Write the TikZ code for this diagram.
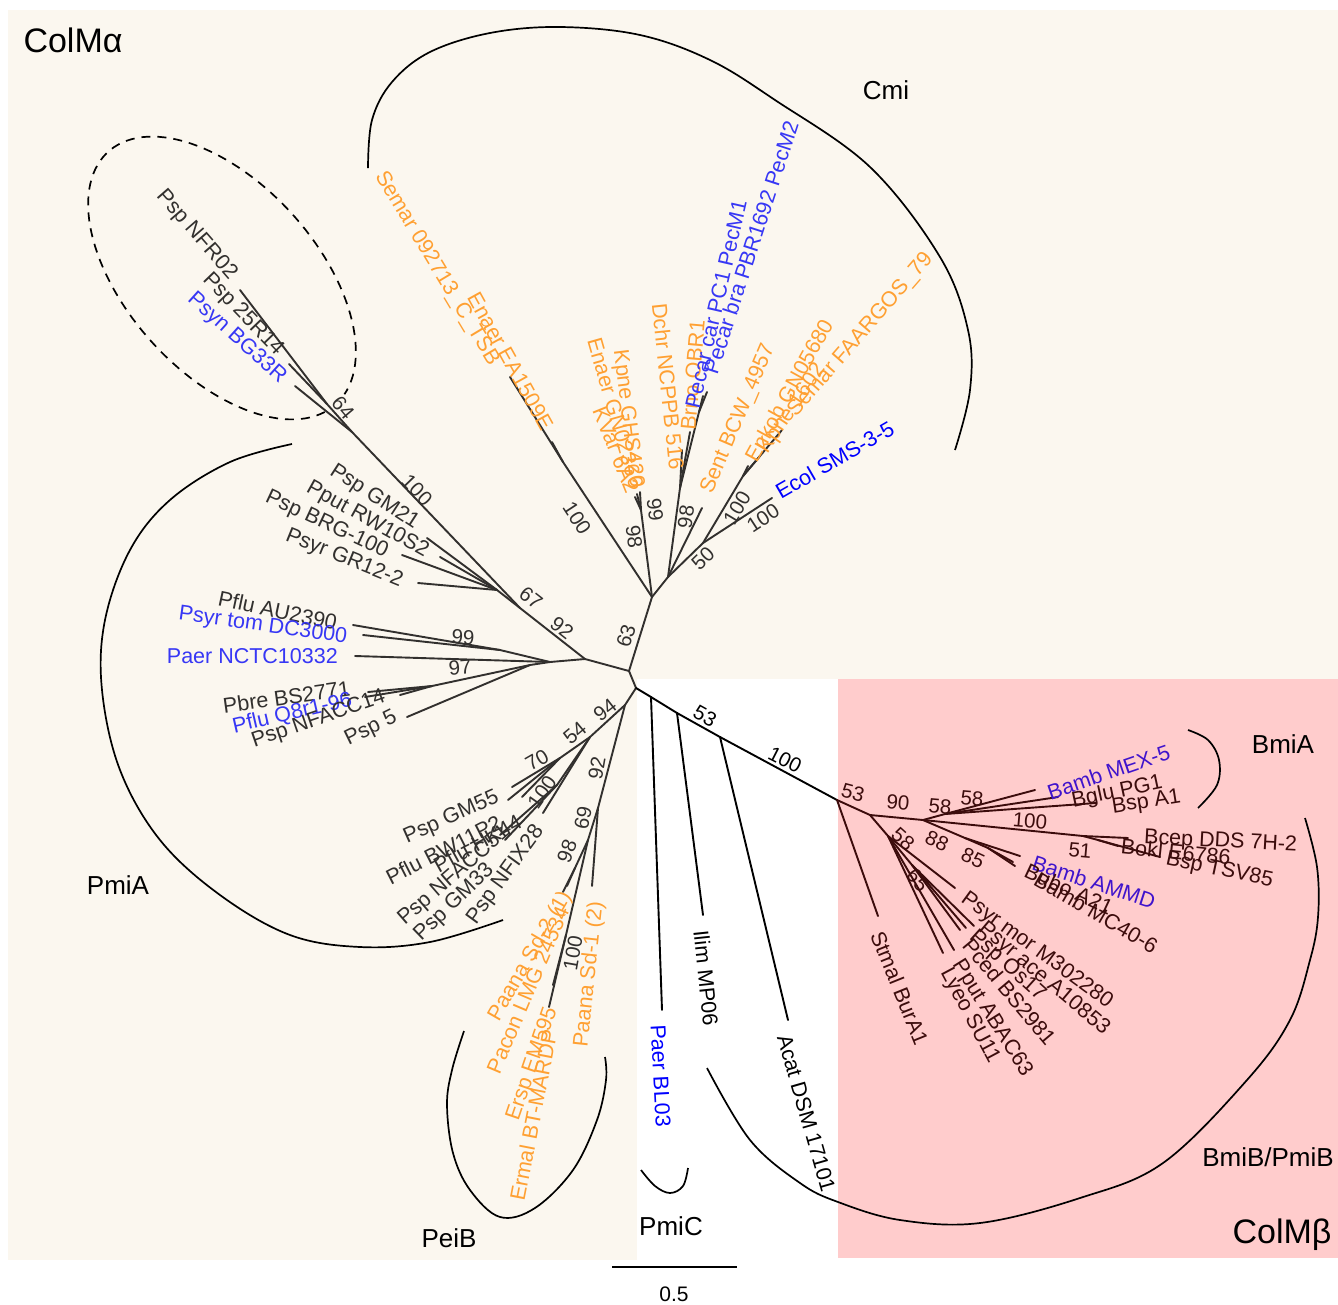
\documentclass[tikz,border=0pt]{standalone}
\usepackage{fontspec}
\setmainfont{Liberation Sans}
\definecolor{cream}{RGB}{251,247,239}
\definecolor{pinkbg}{RGB}{255,204,204}
\definecolor{txtA}{RGB}{50,48,46}
\definecolor{blueA}{RGB}{55,55,245}
\definecolor{blueW}{RGB}{0,0,255}
\definecolor{orangeA}{RGB}{255,160,50}
\definecolor{txtB}{RGB}{60,12,12}
\definecolor{blueB}{RGB}{64,20,204}
\begin{document}
\begin{tikzpicture}[x=1pt,y=-1pt,
  eA/.style={draw=txtA, line width=1.9pt, line cap=round},
  eW/.style={draw=black, line width=1.9pt, line cap=round},
  eB/.style={draw=txtB, line width=1.9pt, line cap=round},
  arcline/.style={draw=black, line width=1.7pt},
  leaf/.style={font=\fontsize{21.5}{21.5}\selectfont, inner sep=0pt},
  lA/.style={leaf, text=txtA},
  lBl/.style={leaf, text=blueA},
  lO/.style={leaf, text=orangeA},
  lW/.style={leaf, text=black},
  lBW/.style={leaf, text=blueW},
  lB/.style={leaf, text=txtB},
  lBB/.style={leaf, text=blueB},
  boot/.style={font=\fontsize{20.5}{20.5}\selectfont, inner sep=0pt},
  bA/.style={boot, text=txtA},
  bW/.style={boot, text=black},
  bB/.style={boot, text=txtB},
  grp/.style={font=\fontsize{26}{26}\selectfont, inner sep=0pt, text=black},
  big/.style={font=\fontsize{34}{34}\selectfont, inner sep=0pt, text=black}
]
\useasboundingbox (0,0) rectangle (1338,1304);
% backgrounds
\fill[white] (0,0) rectangle (1338,1304);
\fill[cream] (8,10) rectangle (1338,679);
\fill[cream] (8,679) rectangle (637,1260);
\fill[pinkbg] (838,679) rectangle (1338,1258);

% ---------- coordinates ----------
\coordinate (N0) at (629,671);
\coordinate (N1) at (636,688);
\coordinate (Np) at (585,659);
\coordinate (Nq) at (520,608);
\coordinate (Nd) at (352,432);
\coordinate (Nd2) at (327,404);
\coordinate (tNFR) at (240,290);
\coordinate (t25R) at (289,364);
\coordinate (tBG) at (295,386);
\coordinate (G67) at (497,590);
\coordinate (tGM21) at (427,538);
\coordinate (tRW) at (440,557);
\coordinate (tBRG) at (402,555);
\coordinate (tGR) at (418,583);
\coordinate (Nr) at (550,662);
\coordinate (C99) at (500,650);
\coordinate (tAU) at (353,625);
\coordinate (tDC) at (363,635);
\coordinate (tNCTC) at (355,656);
\coordinate (C97) at (530,665);
\coordinate (C97a) at (432,686);
\coordinate (tPbre) at (368,692);
\coordinate (tQ8) at (400,695);
\coordinate (tNF14) at (365,697);
\coordinate (tPsp5) at (407,717);
% Cmi
\coordinate (Nc0) at (652,597);
\coordinate (S1) at (563,462);
\coordinate (tSemar) at (510,377);
\coordinate (tEA) at (552,442);
\coordinate (K1) at (641,510);
\coordinate (tKpne) at (637,494);
\coordinate (tEnGN) at (640,492);
\coordinate (tKVar) at (635,497);
\coordinate (Nc2) at (668,577);
\coordinate (D1) at (680,488);
\coordinate (tDchr) at (682,450);
\coordinate (tBrno) at (690,432);
\coordinate (P1) at (699,412);
\coordinate (tPC1) at (703,396);
\coordinate (tPBR) at (707,392);
\coordinate (tSent) at (702,508);
\coordinate (Nc4) at (703,543);
\coordinate (tEcol) at (772,498);
\coordinate (E1) at (743,476);
\coordinate (tEnkob) at (748,466);
\coordinate (tKp16) at (760,456);
\coordinate (tSemF) at (782,430);
% lower left
\coordinate (Nl) at (625,705);
\coordinate (Nf) at (590,737);
\coordinate (F70) at (560,758);
\coordinate (tGM55) at (512,787);
\coordinate (tBW) at (508,800);
\coordinate (tHK) at (522,797);
\coordinate (F100) at (557,785);
\coordinate (tNF51) at (500,835);
\coordinate (tGM33) at (505,840);
\coordinate (tNFIX) at (543,813);
\coordinate (Q92) at (598,808);
\coordinate (tSd1) at (592,886);
\coordinate (Q69) at (588,840);
\coordinate (Q98) at (575,868);
\coordinate (tSd2) at (567,886);
\coordinate (tPacon) at (563,892);
\coordinate (Q100) at (566,935);
\coordinate (tErsp) at (549,1007);
\coordinate (tErmal) at (553,985);
% white
\coordinate (W1) at (651,697);
\coordinate (W2) at (677,713);
\coordinate (W3) at (720,737);
\coordinate (Nb) at (837,800);
\coordinate (tBL03) at (662,1010);
\coordinate (tIlim) at (703,915);
\coordinate (tAcat) at (788,1020);
% ColM beta
\coordinate (tStmal) at (878,916);
\coordinate (Nb1) at (870,815);
\coordinate (Nb4) at (923,820);
\coordinate (Nb5) at (945,814);
\coordinate (tMEX) at (1035,790);
\coordinate (tBglu) at (1058,797);
\coordinate (tBspA) at (1096,803);
\coordinate (B100) at (1083,836);
\coordinate (tBcep) at (1128,838);
\coordinate (B51) at (1098,840);
\coordinate (tBokl) at (1118,846);
\coordinate (tTSV) at (1160,857);
\coordinate (A88) at (965,838);
\coordinate (tAMMD) at (1020,856);
\coordinate (A85) at (988,848);
\coordinate (tBubo) at (1013,862);
\coordinate (tMC40) at (1015,866);
\coordinate (L58) at (888,836);
\coordinate (tPmor) at (955,888);
\coordinate (L65) at (912,865);
\coordinate (tPace) at (974,926);
\coordinate (tOs17) at (966,928);
\coordinate (tPced) at (960,930);
\coordinate (tPput) at (954,950);
\coordinate (tLyeo) at (943,953);

% ---------- group arcs ----------
\draw[arcline] plot[smooth, tension=0.6] coordinates {(368,168) (372,120) (392,82) (430,52) (490,33) (560,27) (640,35) (710,60) (775,100) (870,167) (940,257) (968,330) (970,390) (955,450)};
\draw[arcline] plot[smooth, tension=0.6] coordinates {(292,444) (230,462) (170,500) (130,550) (105,620) (102,690) (120,770) (160,840) (220,895) (290,935) (360,947) (430,942) (503,920)};
\draw[arcline] plot[smooth, tension=0.6] coordinates {(464,1031) (452,1070) (447,1105) (453,1153) (470,1190) (500,1217) (535,1208) (573,1170) (597,1120) (606,1080) (605,1057)};
\draw[arcline] plot[smooth, tension=0.6] coordinates {(641,1170) (655,1186) (670,1193) (683,1186) (688,1168)};
\draw[arcline] plot[smooth, tension=0.6] coordinates {(707,1068) (750,1140) (800,1183) (838,1202) (900,1220) (980,1223) (1080,1198) (1163,1163) (1247,1080) (1290,1020) (1310,960) (1318,917) (1317,867) (1305,818)};
\draw[arcline] plot[smooth, tension=0.6] coordinates {(1188,730) (1208,740) (1219,760) (1217,785) (1198,808)};
\draw[arcline, dash pattern=on 9pt off 7pt] plot[domain=8:352, samples=120, variable=\s] ({222+170*cos(\s)*cos(48)-95*sin(\s)*sin(48)}, {278+170*cos(\s)*sin(48)+95*sin(\s)*cos(48)});

% ---------- edges ----------
\foreach \a/\b in {N0/N1, N0/Np, N0/Nc0, Np/Nq, Np/Nr, Nq/Nd, Nq/G67,
  Nd/Nd2, Nd/tBG, Nd2/tNFR, Nd2/t25R, G67/tGM21, G67/tRW, G67/tBRG, G67/tGR,
  Nr/C99, Nr/tNCTC, Nr/C97, C99/tAU, C99/tDC, C97/C97a, C97/tPsp5,
  C97a/tPbre, C97a/tQ8, C97a/tNF14,
  Nc0/S1, S1/tSemar, S1/tEA, Nc0/K1, K1/tKpne, K1/tEnGN, K1/tKVar,
  Nc0/Nc2, Nc2/D1, D1/tDchr, D1/tBrno, D1/P1, P1/tPC1, P1/tPBR,
  Nc2/tSent, Nc2/Nc4, Nc4/tEcol, Nc4/E1, E1/tEnkob, E1/tKp16, E1/tSemF,
  N1/Nl, Nl/Nf, Nf/F70, F70/tGM55, F70/tBW, F70/tHK, Nf/F100, F100/tNF51,
  F100/tGM33, Nf/tNFIX, Nl/Q92, Q92/tSd1, Q92/Q69, Q69/Q98, Q98/tSd2,
  Q98/tPacon, Q69/Q100, Q100/tErsp, Q100/tErmal}
  \draw[eA] (\a) -- (\b);
\foreach \a/\b in {N1/W1, W1/W2, W2/W3, W3/Nb, W1/tBL03, W2/tIlim, W3/tAcat}
  \draw[eW] (\a) -- (\b);
\foreach \a/\b in {Nb/tStmal, Nb/Nb1, Nb1/Nb4, Nb4/Nb5, Nb5/tMEX, Nb5/tBglu,
  Nb5/tBspA, Nb4/B100, B100/tBcep, B100/B51, B51/tBokl, B51/tTSV, Nb4/A88,
  A88/tAMMD, A88/A85, A85/tBubo, A85/tMC40, Nb1/L58, L58/tPmor, L58/L65,
  L65/tPace, L65/tOs17, L65/tPced, L58/tPput, L58/tLyeo}
  \draw[eB] (\a) -- (\b);

% ---------- leaf labels: ColM alpha ----------
\node[lA, anchor=east, rotate=-49] (lNFR) at (233,277) {Psp NFR02};
\node[lA, anchor=east, rotate=-46] (l25R) at (280,353) {Psp 25R14};
\node[lBl, anchor=east, rotate=-42] (lBG) at (283,380) {Psyn BG33R};
\node[lA, anchor=east, rotate=-33] (lGM21) at (417,525) {Psp GM21};
\node[lA, anchor=east, rotate=-29] (lRW) at (427,553) {Pput RW10S2};
\node[lA, anchor=east, rotate=-25] (lBRG) at (387,553) {Psp BRG-100};
\node[lA, anchor=east, rotate=-22] (lGR) at (402,582) {Psyr GR12-2};
\node[lA, anchor=east, rotate=-12] (lAU) at (337,623) {Pflu AU2390};
\node[lBl, anchor=east, rotate=-8] (lDC) at (347,638) {Psyr tom DC3000};
\node[lBl, anchor=east] (lNCTC) at (338,656) {Paer NCTC10332};
\node[lA, anchor=east, rotate=8] (lPbre) at (350,688) {Pbre BS2771};
\node[lBl, anchor=east, rotate=13] (lQ8) at (352,700) {Pflu Q8r1-96};
\node[lA, anchor=east, rotate=19] (lNF14) at (385,697) {Psp NFACC14};
\node[lA, anchor=east, rotate=26] (lPsp5) at (396,717) {Psp 5};
\node[lO, anchor=east, rotate=-59] (lSemar) at (494,364) {Semar 092713\_C\_TSB};
\node[lO, anchor=east, rotate=-61] (lEA) at (548,429) {Enaer EA1509E};
\node[lO, anchor=east, rotate=-83] (lKpne) at (636,488) {Kpne GHS420};
\node[lO, anchor=east, rotate=-74] (lEnGN) at (637,488) {Enaer GN02366};
\node[lO, anchor=east, rotate=-68] (lKVar) at (633,492) {KVar 6A2};
\node[lO, anchor=east, rotate=-84] (lDchr) at (677,470) {Dchr NCPPB 516};
\node[lO, anchor=west, rotate=85] (lBrno) at (688,430) {Brno OBR1};
\node[lBl, anchor=west, rotate=77] (lPC1) at (692,408) {Pecar car PC1 PecM1};
\node[lBl, anchor=west, rotate=72] (lPBR) at (710,373) {Pecar bra PBR1692 PecM2};
\node[lO, anchor=west, rotate=67] (lSent) at (707,493) {Sent BCW\_4957};
\node[lO, anchor=west, rotate=61] (lEnkob) at (750,460) {Enkob GN05680};
\node[lO, anchor=west, rotate=56] (lKp16) at (763,452) {Kpne 1602};
\node[lO, anchor=west, rotate=49] (lSemF) at (792,414) {Semar FAARGOS\_79};
\node[lBW, anchor=west, rotate=30] (lEcol) at (777,493) {Ecol SMS-3-5};
\node[lA, anchor=east, rotate=24] (lGM55) at (498,797) {Psp GM55};
\node[lA, anchor=east, rotate=27] (lBW) at (500,821) {Pflu BW11P2};
\node[lA, anchor=east, rotate=29] (lHK) at (520,820) {Pflu HK44};
\node[lA, anchor=east, rotate=41] (lNF51) at (507,830) {Psp NFACC51};
\node[lA, anchor=east, rotate=44] (lGM33) at (491,867) {Psp GM33};
\node[lA, anchor=east, rotate=54] (lNFIX) at (540,828) {Psp NFIX28};
\node[lO, anchor=east, rotate=60] (lSd2) at (567,893) {Paana Sd-2 (1)};
\node[lO, anchor=east, rotate=67] (lPacon) at (563,907) {Pacon LMG 24534};
\node[lO, anchor=east, rotate=84] (lSd1) at (597,902) {Paana Sd-1 (2)};
\node[lO, anchor=east, rotate=71] (lErsp) at (552,1008) {Ersp EM595};
\node[lO, anchor=east, rotate=79] (lErmal) at (550,1030) {Ermal BT-MARDP};
% white region
\node[lBW, anchor=west, rotate=-87] (lBL03) at (658,1025) {Paer BL03};
\node[lW, anchor=west, rotate=-84] (lIlim) at (701,930) {Ilim MP06};
\node[lW, anchor=west, rotate=-74] (lAcat) at (784,1035) {Acat DSM 17101};
% ColM beta
\node[lBB, anchor=west, rotate=19] (lMEX) at (1048,793) {Bamb MEX-5};
\node[lB, anchor=west, rotate=12] (lBglu) at (1072,802) {Bglu PG1};
\node[lB, anchor=west, rotate=9] (lBspA) at (1112,808) {Bsp A1};
\node[lB, anchor=west, rotate=-3] (lBcep) at (1144,838) {Bcep DDS 7H-2};
\node[lB, anchor=west, rotate=-6] (lBokl) at (1121,846) {Bokl E6786};
\node[lB, anchor=west, rotate=-12] (lTSV) at (1166,859) {Bsp TSV85};
\node[lBB, anchor=west, rotate=-18] (lAMMD) at (1033,862) {Bamb AMMD};
\node[lB, anchor=west, rotate=-25] (lBubo) at (1026,869) {Bubo A21};
\node[lB, anchor=west, rotate=-30] (lMC40) at (1036,878) {Bamb MC40-6};
\node[lB, anchor=west, rotate=-36] (lPmor) at (963,897) {Psyr mor M302280};
\node[lB, anchor=west, rotate=-40] (lPace) at (981,926) {Psyr ace A10853};
\node[lB, anchor=west, rotate=-42] (lOs17) at (972,934) {Psp Os17};
\node[lB, anchor=west, rotate=-50] (lPced) at (967,941) {Pced BS2981};
\node[lB, anchor=west, rotate=-58] (lPput) at (957,962) {Pput ABAC63};
\node[lB, anchor=west, rotate=-62] (lLyeo) at (945,970) {Lyeo SU11};
\node[lB, anchor=west, rotate=-68] (lStmal) at (877,932) {Stmal BurA1};

% ---------- bootstrap values ----------
\node[bA, rotate=-46] (b1) at (417,490) {100};
\node[bA, rotate=-50] (b2) at (343,408) {64};
\node[bA, rotate=-38] (b3) at (531,598) {67};
\node[bA, rotate=-38] (b4) at (562,628) {92};
\node[bA, rotate=-3] (b5) at (463,637) {99};
\node[bA, rotate=5] (b6) at (460,667) {97};
\node[bA, rotate=73] (b7) at (626,636) {63};
\node[bA, rotate=-57] (b8) at (577,518) {100};
\node[bA, rotate=-83] (b9) at (634,537) {98};
\node[bA, rotate=-83] (b10) at (655,510) {99};
\node[bA, rotate=82] (b11) at (686,517) {98};
\node[bA, rotate=44] (b12) at (703,558) {50};
\node[bA, rotate=59] (b13) at (737,508) {100};
\node[bA, rotate=33] (b14) at (763,518) {100};
\node[bA, rotate=38] (b15) at (605,710) {94};
\node[bA, rotate=40] (b16) at (575,733) {54};
\node[bA, rotate=30] (b17) at (537,760) {70};
\node[bA, rotate=55] (b18) at (542,792) {100};
\node[bA, rotate=80] (b19) at (597,768) {92};
\node[bA, rotate=78] (b20) at (583,818) {69};
\node[bA, rotate=70] (b21) at (567,851) {98};
\node[bA, rotate=80] (b22) at (573,953) {100};
\node[bW, rotate=-29] (b23) at (705,716) {53};
\node[bW, rotate=-27] (b24) at (785,760) {100};
\node[bB, rotate=-15] (b25) at (853,793) {53};
\node[bB, rotate=-5] (b26) at (898,802) {90};
\node[bB, rotate=-5] (b27) at (940,806) {58};
\node[bB, rotate=-5] (b28) at (972,798) {58};
\node[bB, rotate=-5] (b29) at (1030,821) {100};
\node[bB, rotate=-5] (b30) at (1080,851) {51};
\node[bB, rotate=-42] (b31) at (903,839) {58};
\node[bB, rotate=-25] (b32) at (937,841) {88};
\node[bB, rotate=-25] (b33) at (973,858) {85};
\node[bB, rotate=-52] (b34) at (918,880) {65};

% ---------- group labels ----------
\node[big] (gA) at (73,40) {ColMα};
\node[big] (gB) at (1282,1235) {ColMβ};
\node[grp] (gCmi) at (886,90) {Cmi};
\node[grp] (gPmiA) at (118,885) {PmiA};
\node[grp] (gPeiB) at (449,1238) {PeiB};
\node[grp] (gPmiC) at (671,1226) {PmiC};
\node[grp] (gBmiA) at (1283,744) {BmiA};
\node[grp] (gBmiB) at (1268,1157) {BmiB/PmiB};

% ---------- scale bar ----------
\coordinate (sb1) at (612,1267);
\coordinate (sb2) at (737,1267);
\draw[line width=1.6pt] (sb1) -- (sb2);
\node[font=\fontsize{21}{21}\selectfont, inner sep=0pt] (sbl) at (674,1294) {0.5};
\end{tikzpicture}
\end{document}
